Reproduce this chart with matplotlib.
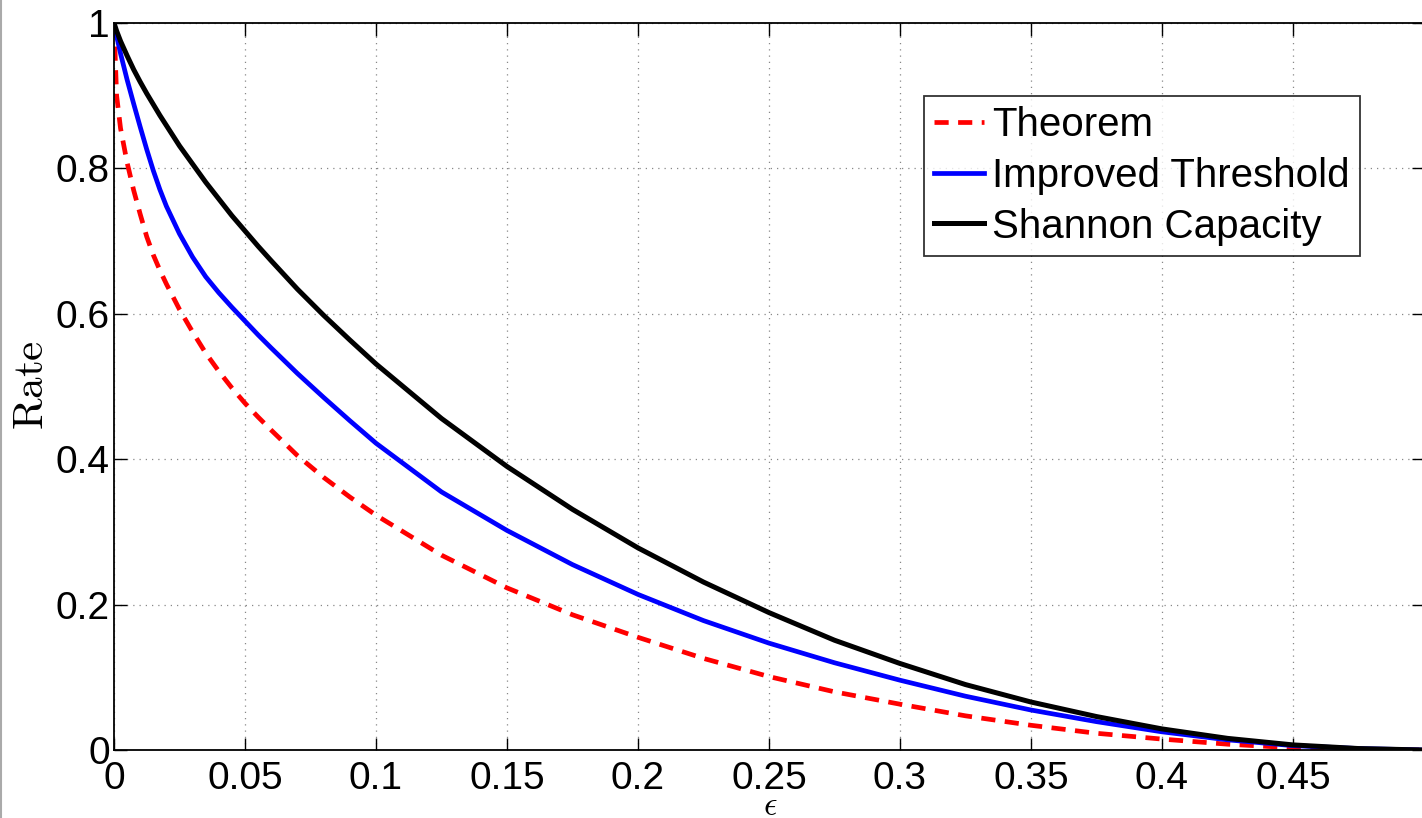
import matplotlib.pyplot as plt
from matplotlib.lines import Line2D

plt.rcParams['font.family'] = ['Liberation Sans', 'DejaVu Sans']
plt.rcParams['mathtext.fontset'] = 'cm'

# values
eps = [0.0, 0.001, 0.0025, 0.005, 0.0075, 0.01, 0.0125, 0.015, 0.0175, 0.02,
       0.025, 0.03, 0.035, 0.04, 0.045, 0.05, 0.055, 0.06, 0.07, 0.08, 0.09, 0.1,
       0.125, 0.15, 0.175, 0.2, 0.225, 0.25, 0.275, 0.3, 0.325, 0.35, 0.375, 0.4,
       0.425, 0.45, 0.475, 0.5]
theorem = [1.0, 0.90, 0.855, 0.808, 0.77, 0.737, 0.706, 0.681, 0.66, 0.641,
           0.606, 0.575, 0.546, 0.521, 0.498, 0.477, 0.458, 0.44, 0.405, 0.375, 0.348, 0.323,
           0.268, 0.223, 0.186, 0.155, 0.126, 0.101, 0.080, 0.063, 0.047, 0.034, 0.023, 0.015,
           0.008, 0.003, 0.0, 0.0]
improved = [1.0, 0.982, 0.958, 0.922, 0.889, 0.857, 0.826, 0.797, 0.771, 0.748,
            0.71, 0.678, 0.651, 0.629, 0.609, 0.590, 0.571, 0.553, 0.518, 0.485, 0.453, 0.422,
            0.355, 0.302, 0.255, 0.214, 0.178, 0.147, 0.120, 0.096, 0.074, 0.055, 0.039, 0.025,
            0.014, 0.006, 0.002, 0.0]
shannon = [1.0, 0.989, 0.975, 0.955, 0.936, 0.919, 0.903, 0.888, 0.873, 0.859,
           0.831, 0.806, 0.781, 0.758, 0.735, 0.714, 0.693, 0.673, 0.634, 0.598, 0.564, 0.531,
           0.456, 0.390, 0.331, 0.278, 0.231, 0.189, 0.151, 0.119, 0.090, 0.066, 0.046, 0.029,
           0.016, 0.007, 0.002, 0.0]

xticks = [0, 0.05, 0.1, 0.15, 0.2, 0.25, 0.3, 0.35, 0.4, 0.45]
xticklabels = ['0', '0.05', '0.1', '0.15', '0.2', '0.25', '0.3', '0.35', '0.4', '0.45']
yticks = [0, 0.2, 0.4, 0.6, 0.8, 1]
yticklabels = ['0', '0.2', '0.4', '0.6', '0.8', '1']

fig = plt.figure(figsize=(14.22, 8.18), dpi=100)
ax = fig.add_axes([114 / 1422, 68 / 818, 1310 / 1422, 727 / 818])

ax.plot(eps, theorem, color='red', lw=3.4, ls=(0, (3.0, 2.0)), label='Theorem')
ax.plot(eps, improved, color='blue', lw=3.4, label='Improved Threshold')
ax.plot(eps, shannon, color='black', lw=3.6, label='Shannon Capacity')

ax.set_xlim(0, 0.5)
ax.set_ylim(0, 1)
ax.set_xticks(xticks)
ax.set_xticklabels(xticklabels)
ax.set_yticks(yticks)
ax.set_yticklabels(yticklabels)
ax.tick_params(direction='in', top=True, right=True, length=9, width=1,
               labelsize=28)
ax.tick_params(axis='x', pad=8)
ax.tick_params(axis='y', pad=3)
ax.grid(True, ls=(0, (1, 4)), color='#888888', lw=0.9)
for s in ax.spines.values():
    s.set_linewidth(1.3)

leg = ax.legend(loc='upper right', bbox_to_anchor=(0.951, 0.9), borderaxespad=0,
                fontsize=29, frameon=True, fancybox=False, edgecolor='black',
                handlelength=1.25, handletextpad=0.2, borderpad=0.25,
                labelspacing=0.32)
leg.get_frame().set_linewidth(1.3)

fig.text(32 / 1422, 1 - 385 / 818, r'$\mathrm{Rate}$', rotation=90,
         fontsize=31, ha='center', va='center')
fig.text(770 / 1422, 1 - 815 / 818, r'$\epsilon$', fontsize=24,
         ha='center', va='baseline')

# grey border line at left edge of the picture
fig.add_artist(Line2D([1 / 1422, 1 / 1422], [0, 1], color='#aaaaaa', lw=1.5,
                      transform=fig.transFigure))

fig.savefig('out.png', dpi=100)
